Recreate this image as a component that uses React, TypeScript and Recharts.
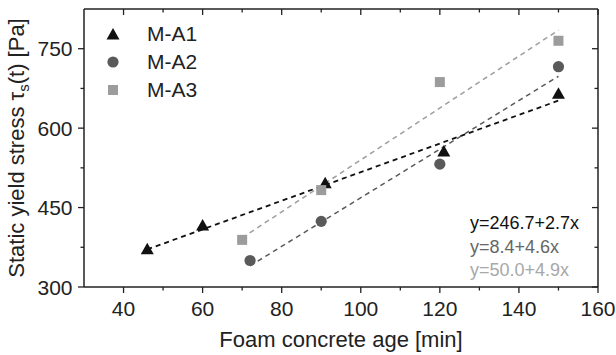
import React from 'react';
import { ScatterChart, Scatter, XAxis, YAxis, Label } from 'recharts';

// measured points, foam concrete age [min] vs static yield stress [Pa]
const ageA1 = [46, 60, 91, 121, 150];
const stressA1 = [372, 417, 497, 557, 666];
const ageA2 = [72, 90, 120, 150];
const stressA2 = [350, 424, 532, 716];
const ageA3 = [70, 90, 120, 150];
const stressA3 = [389, 483, 687, 765];

// end points of the fitted lines
const fitAgeA1 = [46, 150];
const fitStressA1 = [371, 652];
const fitAgeA2 = [72, 150];
const fitStressA2 = [340, 698];
const fitAgeA3 = [70, 150];
const fitStressA3 = [393, 785];

const seriesNames = ['M-A1', 'M-A2', 'M-A3'];
const fitLabels = ['y=246.7+2.7x', 'y=8.4+4.6x', 'y=50.0+4.9x'];

const xTicks = [40, 50, 60, 70, 80, 90, 100, 110, 120, 130, 140, 150, 160];
const yTicks = [300, 375, 450, 525, 600, 675, 750];

const markerColors = ['#111111', '#5a5a5a', '#9c9c9c'];
const lineColors = ['#111111', '#5a5a5a', '#9e9e9e'];
const labelColors = ['#111111', '#666666', '#a8a8a8'];

const FONT = '"Liberation Sans", Arial, sans-serif';
const AXIS = '#222222';

const toPoints = (xs: number[], ys: number[]) => xs.map((x, i) => ({ x, y: ys[i] }));

const Marker = ({ kind, cx, cy, fill }: { kind: number; cx: number; cy: number; fill: string }) => {
  if (kind === 0) {
    return <polygon points={`${cx},${cy - 6} ${cx + 6.5},${cy + 5.5} ${cx - 6.5},${cy + 5.5}`} fill={fill} />;
  }
  if (kind === 1) {
    return <circle cx={cx} cy={cy} r={5.6} fill={fill} />;
  }
  return <rect x={cx - 5} y={cy - 5} width={10} height={10} fill={fill} />;
};

const BottomTick = (props: any) => {
  const { x, y, payload } = props;
  const major = payload.value % 20 === 0;
  return (
    <g>
      <line x1={x} x2={x} y1={y} y2={y + (major ? 6 : 3.5)} stroke={AXIS} strokeWidth={1.3} />
      {major && (
        <text x={x} y={y + 29} textAnchor="middle" fontSize={21} fontFamily={FONT} fill={AXIS}>
          {payload.value}
        </text>
      )}
    </g>
  );
};

const TopTick = (props: any) => {
  const { x, y, payload } = props;
  const major = payload.value % 20 === 0;
  return <line x1={x} x2={x} y1={y} y2={y + (major ? 6 : 3.5)} stroke={AXIS} strokeWidth={1.3} />;
};

const LeftTick = (props: any) => {
  const { x, y, payload } = props;
  const major = (payload.value - 300) % 150 === 0;
  return (
    <g>
      <line x1={x} x2={x - (major ? 6 : 3.5)} y1={y} y2={y} stroke={AXIS} strokeWidth={1.3} />
      {major && (
        <text x={x - 11.5} y={y} dy="0.36em" textAnchor="end" fontSize={21} fontFamily={FONT} fill={AXIS}>
          {payload.value}
        </text>
      )}
    </g>
  );
};

const RightTick = (props: any) => {
  const { x, y, payload } = props;
  const major = (payload.value - 300) % 150 === 0;
  return <line x1={x} x2={x - (major ? 6 : 3.5)} y1={y} y2={y} stroke={AXIS} strokeWidth={1.3} />;
};

const YTitle = (props: any) => {
  const { viewBox } = props;
  const cy = viewBox.y + viewBox.height / 2;
  return (
    <text
      x={23.5}
      y={cy}
      transform={`rotate(-90, 23.5, ${cy})`}
      textAnchor="middle"
      fontSize={22}
      fontFamily={FONT}
      fill={AXIS}
    >
      Static yield stress τ
      <tspan fontSize={15} dy={5}>s</tspan>
      <tspan dy={-5}>(t) [Pa]</tspan>
    </text>
  );
};

export default function App() {
  const points = [toPoints(ageA1, stressA1), toPoints(ageA2, stressA2), toPoints(ageA3, stressA3)];
  const fits = [
    toPoints(fitAgeA1, fitStressA1),
    toPoints(fitAgeA2, fitStressA2),
    toPoints(fitAgeA3, fitStressA3),
  ];

  return (
    <div style={{ position: 'absolute', left: 0, top: 0, width: 616, height: 355, background: '#fff' }}>
      <ScatterChart width={616} height={355} margin={{ top: 8, right: 17, bottom: 0, left: 0 }}>
        <XAxis
          type="number"
          dataKey="x"
          domain={[30, 160]}
          ticks={xTicks}
          interval={0}
          height={68}
          tickSize={0}
          tickMargin={0}
          tickLine={false}
          tick={<BottomTick />}
          axisLine={{ stroke: AXIS, strokeWidth: 1.5 }}
          allowDataOverflow
        >
          <Label
            value="Foam concrete age [min]"
            position="insideBottom"
            offset={8}
            fontSize={22}
            fontFamily={FONT}
            fill={AXIS}
          />
        </XAxis>
        <XAxis
          xAxisId="top"
          orientation="top"
          type="number"
          dataKey="x"
          domain={[30, 160]}
          ticks={xTicks}
          interval={0}
          height={1}
          tickSize={0}
          tickMargin={0}
          tickLine={false}
          tick={<TopTick />}
          axisLine={{ stroke: AXIS, strokeWidth: 1.5 }}
          allowDataOverflow
        />
        <YAxis
          type="number"
          dataKey="y"
          domain={[300, 825]}
          ticks={yTicks}
          interval={0}
          width={84}
          tickSize={0}
          tickMargin={0}
          tickLine={false}
          tick={<LeftTick />}
          axisLine={{ stroke: AXIS, strokeWidth: 1.5 }}
          allowDataOverflow
        >
          <Label content={<YTitle />} />
        </YAxis>
        <YAxis
          yAxisId="right"
          orientation="right"
          type="number"
          dataKey="y"
          domain={[300, 825]}
          ticks={yTicks}
          interval={0}
          width={1}
          tickSize={0}
          tickMargin={0}
          tickLine={false}
          tick={<RightTick />}
          axisLine={{ stroke: AXIS, strokeWidth: 1.5 }}
          allowDataOverflow
        />
        {fits.map((d, i) => (
          <Scatter
            key={'fit' + i}
            name={'fit' + i}
            data={d}
            legendType="none"
            line={{ stroke: lineColors[i], strokeWidth: i === 0 ? 1.8 : 1.5, strokeDasharray: '5 4' }}
            lineType="joint"
            shape={() => <g />}
            isAnimationActive={false}
          />
        ))}
        {points.map((d, i) => (
          <Scatter
            key={seriesNames[i]}
            name={seriesNames[i]}
            data={d}
            fill={markerColors[i]}
            shape={(p: any) => <Marker kind={i} cx={p.cx} cy={p.cy} fill={markerColors[i]} />}
            isAnimationActive={false}
          />
        ))}
      </ScatterChart>
      <div
        style={{
          position: 'absolute',
          left: 104,
          top: 20,
          fontFamily: FONT,
          fontSize: 21,
          color: AXIS,
        }}
      >
        {seriesNames.map((name, i) => (
          <div key={name} style={{ display: 'flex', alignItems: 'center', height: 28 }}>
            <svg width={18} height={18} style={{ marginRight: 25 }}>
              <Marker kind={i} cx={9} cy={9} fill={markerColors[i]} />
            </svg>
            <span>{name}</span>
          </div>
        ))}
      </div>
      <div
        style={{
          position: 'absolute',
          left: 470,
          top: 212,
          fontFamily: FONT,
          fontSize: 18,
          lineHeight: '23.5px',
          whiteSpace: 'nowrap',
        }}
      >
        {fitLabels.map((t, i) => (
          <div key={t} style={{ color: labelColors[i] }}>
            {t}
          </div>
        ))}
      </div>
    </div>
  );
}
